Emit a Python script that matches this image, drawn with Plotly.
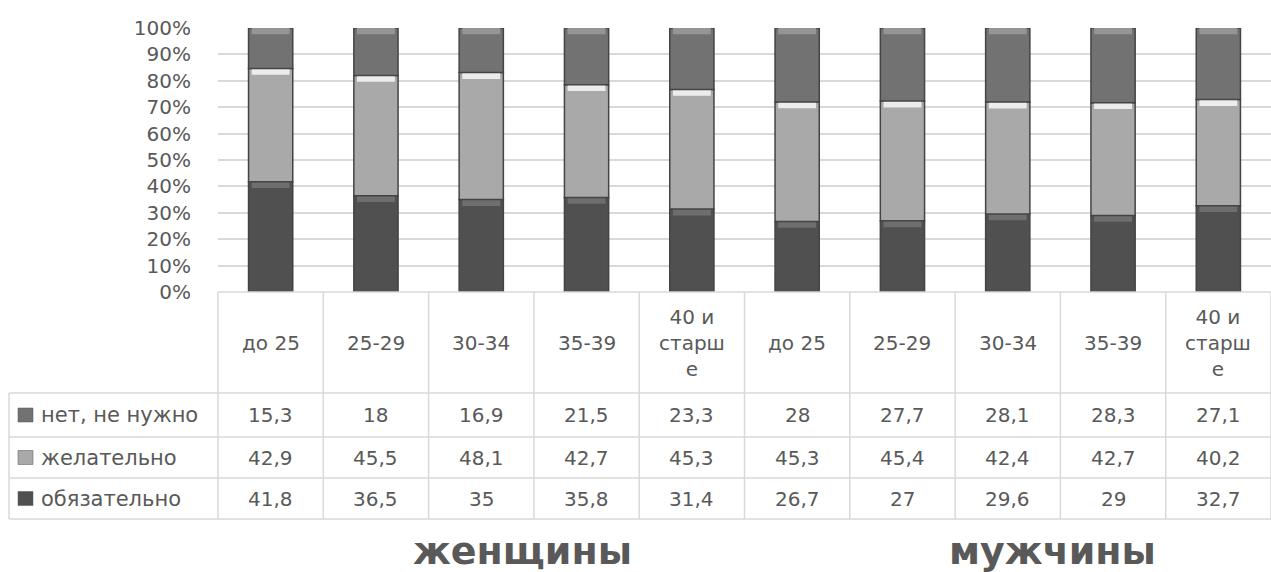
import plotly.graph_objects as go

# ---- data ----
categories = ["до 25", "25-29", "30-34", "35-39", "40 и<br>старш<br>е",
              "до 25", "25-29", "30-34", "35-39", "40 и<br>старш<br>е"]
groups = ["женщины", "мужчины"]
series_names = ["нет, не нужно", "желательно", "обязательно"]
no_need = [15.3, 18, 16.9, 21.5, 23.3, 28, 27.7, 28.1, 28.3, 27.1]
desirable = [42.9, 45.5, 48.1, 42.7, 45.3, 45.3, 45.4, 42.4, 42.7, 40.2]
mandatory = [41.8, 36.5, 35, 35.8, 31.4, 26.7, 27, 29.6, 29, 32.7]
y_ticks = [0, 10, 20, 30, 40, 50, 60, 70, 80, 90, 100]

W, H = 1271, 572
L, R, T, B = 218, 0, 28, 280
plot_w = W - L - R
plot_h = H - T - B
TXT = "#595959"
FONT = "DejaVu Sans"
GRID = "#d9d9d9"
FS = 20

colors = {"нет, не нужно": "#727272", "желательно": "#a9a9a9", "обязательно": "#505050"}
shine = {"нет, не нужно": "#959595", "желательно": "#ececec", "обязательно": "#6e6e6e"}
values = {"нет, не нужно": no_need, "желательно": desirable, "обязательно": mandatory}

x = list(range(len(categories)))
n = len(categories)
fig = go.Figure()
stack_order = ["обязательно", "желательно", "нет, не нужно"]
totals = [sum(values[s][i] for s in stack_order) for i in range(n)]
base = [0.0] * n
for name in stack_order:
    pct = [values[name][i] / totals[i] * 100 for i in range(n)]
    fig.add_trace(go.Bar(
        x=x, y=pct, base=list(base), name=name, width=0.42,
        marker=dict(color=colors[name], line=dict(color="#444444", width=1.5)),
        showlegend=False,
    ))
    tops = [base[i] + pct[i] for i in range(n)]
    # bevel highlight flush with the top edge of each segment
    fig.add_trace(go.Bar(
        x=x, y=[2.4] * n, base=[t - 2.4 for t in tops], width=0.36,
        marker=dict(color=shine[name], line=dict(width=0)),
        showlegend=False, hoverinfo="skip",
    ))
    base = tops

def py(p):
    return (T + plot_h - p) / plot_h

def px(p):
    return (p - L) / plot_w

shapes = []
annotations = []
line = dict(color=GRID, width=1.5)
header_top, header_bot = 292, 393
row_edges = [393, 437, 478, 519]
left_x = 9

for i in range(n + 1):
    xp = i / n
    shapes.append(dict(type="line", xref="paper", yref="paper",
                       x0=xp, x1=xp, y0=py(header_top), y1=py(row_edges[-1]), line=line))
shapes.append(dict(type="line", xref="paper", yref="paper",
                   x0=px(left_x), x1=px(left_x), y0=py(row_edges[0]), y1=py(row_edges[-1]), line=line))
shapes.append(dict(type="line", xref="paper", yref="paper",
                   x0=0, x1=1, y0=py(header_top), y1=py(header_top), line=line))
for e in row_edges:
    shapes.append(dict(type="line", xref="paper", yref="paper",
                       x0=px(left_x), x1=1, y0=py(e), y1=py(e), line=line))

for i, c in enumerate(categories):
    annotations.append(dict(text=c, xref="paper", yref="paper", x=(i + 0.5) / n,
                            y=py((header_top + header_bot) / 2), showarrow=False,
                            font=dict(family=FONT, size=FS, color=TXT),
                            xanchor="center", yanchor="middle", align="center"))

def fmt(v):
    return ("%g" % v).replace(".", ",")

for r, name in enumerate(series_names):
    yc = py((row_edges[r] + row_edges[r + 1]) / 2)
    shapes.append(dict(type="rect", xref="paper", yref="paper",
                       x0=px(18), x1=px(33), y0=yc - 7 / plot_h, y1=yc + 7 / plot_h,
                       fillcolor=colors[name], line=dict(color="#555555", width=0.5)))
    annotations.append(dict(text=name, xref="paper", yref="paper", x=px(39), y=yc,
                            showarrow=False, xanchor="left", yanchor="middle",
                            font=dict(family=FONT, size=FS + 1, color=TXT)))
    for i, v in enumerate(values[name]):
        annotations.append(dict(text=fmt(v), xref="paper", yref="paper", x=(i + 0.5) / n,
                                y=yc, showarrow=False, xanchor="center", yanchor="middle",
                                font=dict(family=FONT, size=FS, color=TXT)))

group_x = [522, 1052]
for g, name in enumerate(groups):
    annotations.append(dict(text="<b>%s</b>" % name, xref="paper", yref="paper",
                            x=px(group_x[g]), y=py(551),
                            showarrow=False, xanchor="center", yanchor="middle",
                            font=dict(family=FONT, size=38, color="#595959")))

fig.update_layout(
    width=W, height=H,
    margin=dict(l=L, r=R, t=T, b=B, pad=0),
    barmode="overlay",
    plot_bgcolor="white", paper_bgcolor="white",
    shapes=shapes, annotations=annotations,
    xaxis=dict(range=[-0.5, n - 0.5], showticklabels=False, showgrid=False,
               zeroline=False, showline=False, ticks=""),
    yaxis=dict(range=[0, 100], tickvals=y_ticks, ticktext=["%d%%" % t for t in y_ticks],
               showgrid=True, gridcolor=GRID, gridwidth=1.5, zeroline=False, showline=False,
               tickfont=dict(family=FONT, size=FS, color=TXT), ticklabelstandoff=26),
)

fig.write_html("out.html", config={"displayModeBar": False},
               post_script="document.body.style.margin='0';document.body.style.overflow='hidden';")
